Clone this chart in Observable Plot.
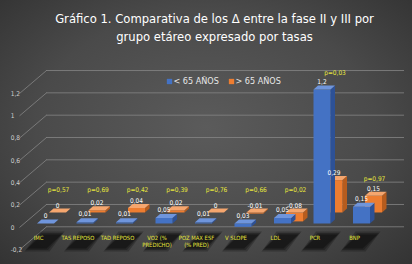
<!DOCTYPE html>
<html><head><meta charset="utf-8">
<script src="https://cdn.jsdelivr.net/npm/d3@7"></script>
<script src="https://cdn.jsdelivr.net/npm/@observablehq/plot@0.6"></script>
<style>
html,body{margin:0;padding:0;background:#3a3a3a;}
body{width:412px;height:264px;overflow:hidden;}
svg{display:block;}
</style></head><body>
<div id="chart"></div>
<script>
const categories = ["IMC","TAS REPOSO","TAD REPOSO","VO2 (% PREDICHO)","POZ MAX ESF (% PRED)","V SLOPE","LDL","PCR","BNP"];
const categoryLines = [["IMC"],["TAS REPOSO"],["TAD REPOSO"],["VO2 (%","PREDICHO)"],["POZ MAX ESF","(% PRED)"],["V SLOPE"],["LDL"],["PCR"],["BNP"]];
const under65 = [0, 0.01, 0.01, 0.05, 0.01, -0.03, 0.05, 1.2, 0.15];
const over65 = [0, 0.02, 0.04, 0.02, 0, -0.01, -0.08, 0.29, 0.15];
const under65Labels = ["0","0,01","0,01","0,05","0,01","0,03","0,05","1,2","0,15"];
const over65Labels = ["0","0,02","0,04","0,02","0","-0,01","-0,08","0,29","0,15"];
const pValues = ["p=0,57","p=0,69","p=0,42","p=0,39","p=0,76","p=0,66","p=0,02","p=0,03","p=0,97"];
const yTicks = [-0.2, 0, 0.2, 0.4, 0.6, 0.8, 1, 1.2];
const seriesNames = ["< 65 AÑOS", "> 65 AÑOS"];
const titleLines = ["Gráfico 1. Comparativa de los Δ entre la fase II y III por", "grupo etáreo expresado por tasas"];

// layout
const W = 412, H = 264, mL = 25.25, mR = 31.25, mT = 66.7, mB = 18.7;
const X0 = 0, X1 = categories.length, Y0 = -0.2, Y1 = 1.4;
const kx = (W - mL - mR) / (X1 - X0), ky = (H - mT - mB) / (Y1 - Y0);
const HW = 8.5, DX = 4.5, DY = 4;           // bar half width, box depth (px)
const planes = [{ox: 0, oy: 0}, {ox: 12, oy: 11}]; // series depth offsets (px)
const WALL = {dx: 26, dy: 19};
const FONT = "'Liberation Sans Narrow','DejaVu Sans Condensed',sans-serif";
const colors = [
  {front: "#4472c4", top: "#6f95dc", side: "#2d5196"},
  {front: "#ed7d31", top: "#f5a66e", side: "#b65c1e"}
];
const grid = "#858585";

function faces(values, plane) {
  const front = [], top = [], side = [];
  values.forEach((v, i) => {
    const c = i + 0.5;
    const xl = c + (plane.ox - HW) / kx, xr = c + (plane.ox + HW) / kx;
    const lift = plane.oy / ky, lo = Math.min(v, 0) + lift, hi = Math.max(v, 0) + lift;
    const ddx = DX / kx, ddy = DY / ky;
    front.push({id: i, x: xl, y: lo}, {id: i, x: xr, y: lo}, {id: i, x: xr, y: hi}, {id: i, x: xl, y: hi});
    top.push({id: i, x: xl, y: hi}, {id: i, x: xr, y: hi}, {id: i, x: xr + ddx, y: hi + ddy}, {id: i, x: xl + ddx, y: hi + ddy});
    side.push({id: i, x: xr, y: lo}, {id: i, x: xr, y: hi}, {id: i, x: xr + ddx, y: hi + ddy}, {id: i, x: xr + ddx, y: lo + ddy});
  });
  return {front, top, side};
}
// soft shadow: layered parallelograms, inset by `k` px
function shadows(k) {
  const pts = [];
  categories.forEach((_, i) => {
    const c = i + 0.5;
    const yt = -(8 + k) / ky, yb = -(28 - k) / ky;
    pts.push({id: i, x: c + (-6 + k) / kx, y: yt}, {id: i, x: c + (19 - k) / kx, y: yt},
             {id: i, x: c + (4 - k) / kx, y: yb}, {id: i, x: c + (-21 + k) / kx, y: yb});
  });
  return pts;
}
const barMarks = (values, s) => {
  const f = faces(values, planes[s]);
  return [
    Plot.line(f.side, {x: "x", y: "y", z: "id", fill: colors[s].side, stroke: "none"}),
    Plot.line(f.front, {x: "x", y: "y", z: "id", fill: colors[s].front, stroke: "none"}),
    Plot.line(f.top, {x: "x", y: "y", z: "id", fill: colors[s].top, stroke: "none"})
  ];
};
const orangeLift = planes[1].oy / ky;
const pLevel = categories.map((_, i) => Math.max(0.3, Math.max(under65[i], over65[i] + orangeLift) + 0.15));
const fmtTick = d => String(d).replace(".", ",");

const chart = Plot.plot({
  width: W, height: H, marginLeft: mL, marginRight: mR, marginTop: mT, marginBottom: mB,
  x: {type: "linear", domain: [X0, X1], axis: null},
  y: {domain: [Y0, Y1], axis: null},
  style: {background: "radial-gradient(ellipse 75% 80% at 50% 48%, #5b5b5b 0%, #4a4a4a 55%, #2f2f2f 100%)", fontFamily: FONT, overflow: "visible"},
  marks: [
    // back wall gridlines
    Plot.ruleY(yTicks, {y: d => d, x1: (46 - mL) / kx, x2: (404 - mL) / kx, dy: -WALL.dy, stroke: grid, strokeWidth: 0.8}),
    // side wall diagonals
    Plot.link(yTicks, {x1: (19 - mL) / kx, y1: d => d, x2: (46 - mL) / kx, y2: d => d + (WALL.dy + 4) / ky, dy: 4, stroke: grid, strokeWidth: 0.8}),
    // y labels
    Plot.text(yTicks, {y: d => d, text: fmtTick, frameAnchor: "left", dx: -15, dy: 4, fontSize: 6.5, fill: "#d0d0d0"}),
    // shadows (layered for softness)
    Plot.line(shadows(0), {x: "x", y: "y", z: "id", fill: "#111", fillOpacity: 0.3, stroke: "none"}),
    Plot.line(shadows(1.5), {x: "x", y: "y", z: "id", fill: "#111", fillOpacity: 0.4, stroke: "none"}),
    Plot.line(shadows(3), {x: "x", y: "y", z: "id", fill: "#111", fillOpacity: 0.6, stroke: "none"}),
    ...barMarks(over65, 1),
    ...barMarks(under65, 0),
    // data labels
    Plot.text(over65, {x: (d, i) => i + 0.5, y: d => Math.max(d, 0), text: (d, i) => over65Labels[i], dx: planes[1].ox, dy: -planes[1].oy - 7, fontSize: 6.5, fill: "white"}),
    Plot.text(under65, {x: (d, i) => i + 0.5, y: d => Math.max(d, 0), text: (d, i) => under65Labels[i], dy: -8, fontSize: 6.5, fill: "white"}),
    // p-values
    Plot.text(pValues, {x: (d, i) => i + 0.5, y: (d, i) => pLevel[i], text: d => d, dx: 13, fontSize: 6.5, fill: "#e6e63c"}),
    // category labels
    Plot.text(categoryLines, {x: (d, i) => i + 0.5, y: 0, text: d => d.join("\n"), dx: -7, dy: 10.5, lineAnchor: "top", lineHeight: 1.35, fontSize: 5.8, fill: "#e6e63c"}),
    // legend
    Plot.dot([0], {frameAnchor: "top", dx: -34, dy: 14.3, symbol: "square", r: 3, fill: colors[0].front}),
    Plot.text([seriesNames[0]], {frameAnchor: "top", dx: -30, dy: 14.3, textAnchor: "start", lineAnchor: "middle", fontSize: 9, fill: "#e8e8e8"}),
    Plot.dot([0], {frameAnchor: "top", dx: 28, dy: 14.3, symbol: "square", r: 3, fill: colors[1].front}),
    Plot.text([seriesNames[1]], {frameAnchor: "top", dx: 32, dy: 14.3, textAnchor: "start", lineAnchor: "middle", fontSize: 9, fill: "#e8e8e8"}),
    // title
    Plot.text([titleLines.join("\n")], {frameAnchor: "top", dx: 11, dy: 26 - mT, lineAnchor: "middle", lineHeight: 1.38, fontSize: 12.9, fill: "white"})
  ]
});
document.getElementById("chart").appendChild(chart);
</script>
</body></html>
